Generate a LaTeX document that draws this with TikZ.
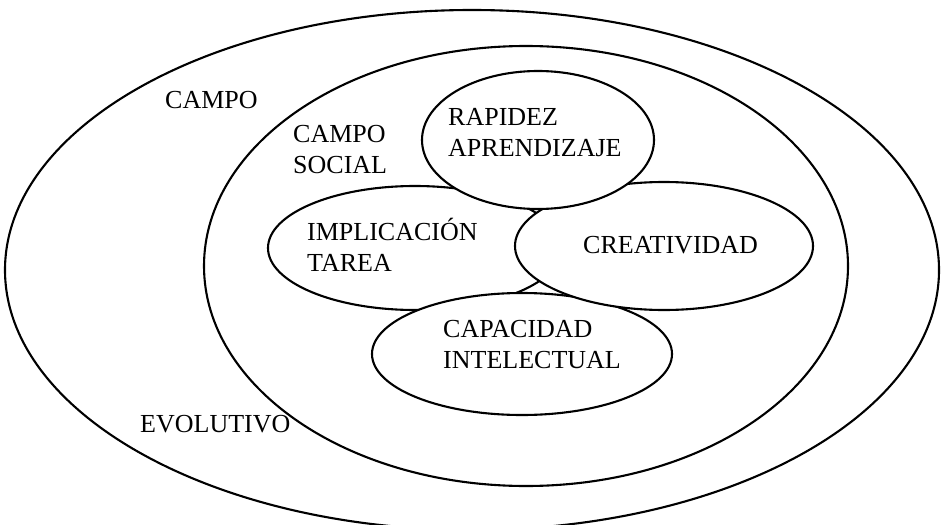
\documentclass[tikz,border=0pt]{standalone}
\usepackage{fontspec}
\setmainfont{Liberation Serif}
\usetikzlibrary{shapes.geometric}
\newcommand\lbfont{\fontsize{26}{31.5}\selectfont}
\newcommand\twolines[2]{\begin{tabular}[t]{@{}l@{}}#1\\#2\end{tabular}}
\begin{document}
\begin{tikzpicture}[x=1pt,y=-1pt,
  ell/.style={draw, ellipse, line width=2.1pt, inner sep=0pt, outer sep=0pt},
  inner/.style={ell, fill=white},
  lbl/.style={anchor=base west, inner sep=0pt, font=\lbfont}]
\useasboundingbox (0,0) rectangle (941,524);
\clip (0,0) rectangle (941,524);
% outer fields
\node[ell, minimum width=934pt, minimum height=520pt] (evol) at (472,270) {};
\node[ell, minimum width=644pt, minimum height=440pt] (social) at (526,266) {};
% inner factors (drawn back to front)
\node[inner, minimum width=294pt, minimum height=124pt] (impl) at (415,248) {};
\node[inner, minimum width=300pt, minimum height=122pt] (capa) at (522,354) {};
\node[inner, minimum width=298pt, minimum height=128pt] (crea) at (664,246) {};
\node[inner, minimum width=232pt, minimum height=138pt] (rapi) at (538,140) {};
% labels
\node[lbl] (tcampo) at (165,109) {CAMPO};
\node[lbl] (tevol) at (140,432) {EVOLUTIVO};
\node[lbl] (tsocial) at (293,142) {\twolines{CAMPO}{SOCIAL}};
\node[lbl] (trapi) at (448,125) {\twolines{RAPIDEZ}{APRENDIZAJE}};
\node[lbl] (timpl) at (307,240) {\twolines{IMPLICACIÓN}{TAREA}};
\node[lbl] (tcrea) at (583,253) {CREATIVIDAD};
\node[lbl] (tcapa) at (443,337) {\twolines{CAPACIDAD}{INTELECTUAL}};
\end{tikzpicture}
\end{document}
